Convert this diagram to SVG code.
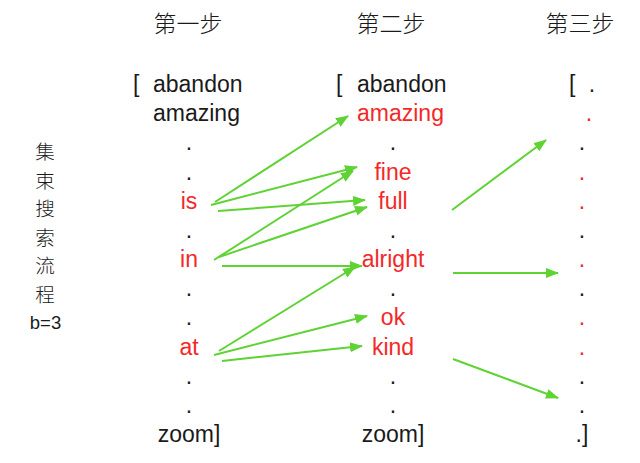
<svg xmlns="http://www.w3.org/2000/svg" width="640" height="463" viewBox="0 0 640 463">
<style>
.t{font-family:"Liberation Sans",Arial,sans-serif;font-size:23px;fill:#1a1a1a;}
.c{text-anchor:middle;}
.r{fill:#f42828;}
.h{font-family:"Noto Sans CJK SC","Noto Sans",sans-serif;font-size:23px;font-weight:300;fill:#1a1a1a;text-anchor:middle;}
.v{font-family:"Noto Sans CJK SC","Noto Sans",sans-serif;font-size:19.5px;font-weight:300;fill:#1a1a1a;text-anchor:middle;}
.a{stroke:#5fd234;stroke-width:2;fill:none;marker-end:url(#ah);}
</style>
<defs>
<marker id="ah" markerUnits="userSpaceOnUse" markerWidth="14" markerHeight="12" refX="12" refY="5" orient="auto">
<path d="M0,0 L13,5 L0,10 z" fill="#5fd234"/>
</marker>
</defs>
<rect width="640" height="463" fill="#fff"/>
<g id="headers">
<text class="h" x="188" y="32">第一步</text>
<text class="h" x="391" y="32">第二步</text>
<text class="h" x="580" y="32">第三步</text>
</g>
<g id="side-label">
<text class="v" x="45" y="159">集</text>
<text class="v" x="45" y="187.5">束</text>
<text class="v" x="45" y="216">搜</text>
<text class="v" x="45" y="244.5">索</text>
<text class="v" x="45" y="273">流</text>
<text class="v" x="45" y="301.5">程</text>
<text class="t c" x="45.5" y="329" style="font-size:18.5px">b=3</text>
</g>
<g id="step1">
<text class="t" x="133" y="92">[</text>
<text class="t" x="153" y="92">abandon</text>
<text class="t" x="153" y="121.2">amazing</text>
<text class="t c" x="189" y="150.3">.</text>
<text class="t c" x="189" y="179.5">.</text>
<text class="t c r" x="189" y="208.7">is</text>
<text class="t c" x="189" y="237.8">.</text>
<text class="t c r" x="189" y="267">in</text>
<text class="t c" x="189" y="296.2">.</text>
<text class="t c" x="189" y="325.3">.</text>
<text class="t c r" x="189" y="354.5">at</text>
<text class="t c" x="189" y="383.7">.</text>
<text class="t c" x="189" y="412.8">.</text>
<text class="t c" x="189" y="442">zoom]</text>
</g>
<g id="step2">
<text class="t" x="336" y="92">[</text>
<text class="t" x="357" y="92">abandon</text>
<text class="t r" x="357" y="121.2">amazing</text>
<text class="t c" x="393" y="150.3">.</text>
<text class="t c r" x="393" y="179.5">fine</text>
<text class="t c r" x="393" y="208.7">full</text>
<text class="t c" x="393" y="237.8">.</text>
<text class="t c r" x="393" y="267">alright</text>
<text class="t c" x="393" y="296.2">.</text>
<text class="t c r" x="393" y="325.3">ok</text>
<text class="t c r" x="393" y="354.5">kind</text>
<text class="t c" x="393" y="383.7">.</text>
<text class="t c" x="393" y="412.8">.</text>
<text class="t c" x="393" y="442">zoom]</text>
</g>
<g id="step3">
<text class="t" x="569" y="92">[</text>
<text class="t c" x="592" y="92">.</text>
<text class="t c r" x="589" y="121.2">.</text>
<text class="t c" x="582" y="150.3">.</text>
<text class="t c r" x="582" y="179.5">.</text>
<text class="t c r" x="582" y="208.7">.</text>
<text class="t c" x="582" y="237.8">.</text>
<text class="t c r" x="582" y="267">.</text>
<text class="t c" x="582" y="296.2">.</text>
<text class="t c r" x="582" y="325.3">.</text>
<text class="t c r" x="582" y="354.5">.</text>
<text class="t c" x="582" y="383.7">.</text>
<text class="t c" x="582" y="412.8">.</text>
<text class="t c" x="582" y="442">.]</text>
</g>
<g id="connectors">
<line class="a" x1="215" y1="202" x2="348" y2="116"/>
<line class="a" x1="211" y1="205" x2="357" y2="167"/>
<line class="a" x1="218" y1="211" x2="365" y2="200"/>
<line class="a" x1="214" y1="260" x2="353" y2="171"/>
<line class="a" x1="219" y1="257" x2="367" y2="207"/>
<line class="a" x1="222" y1="266" x2="362" y2="266"/>
<line class="a" x1="219" y1="351" x2="355" y2="267"/>
<line class="a" x1="214" y1="355" x2="367" y2="316"/>
<line class="a" x1="222" y1="361" x2="362" y2="346"/>
<line class="a" x1="452" y1="210" x2="546" y2="140"/>
<line class="a" x1="453" y1="273" x2="558" y2="273"/>
<line class="a" x1="453" y1="359" x2="558" y2="398"/>
</g>
</svg>
